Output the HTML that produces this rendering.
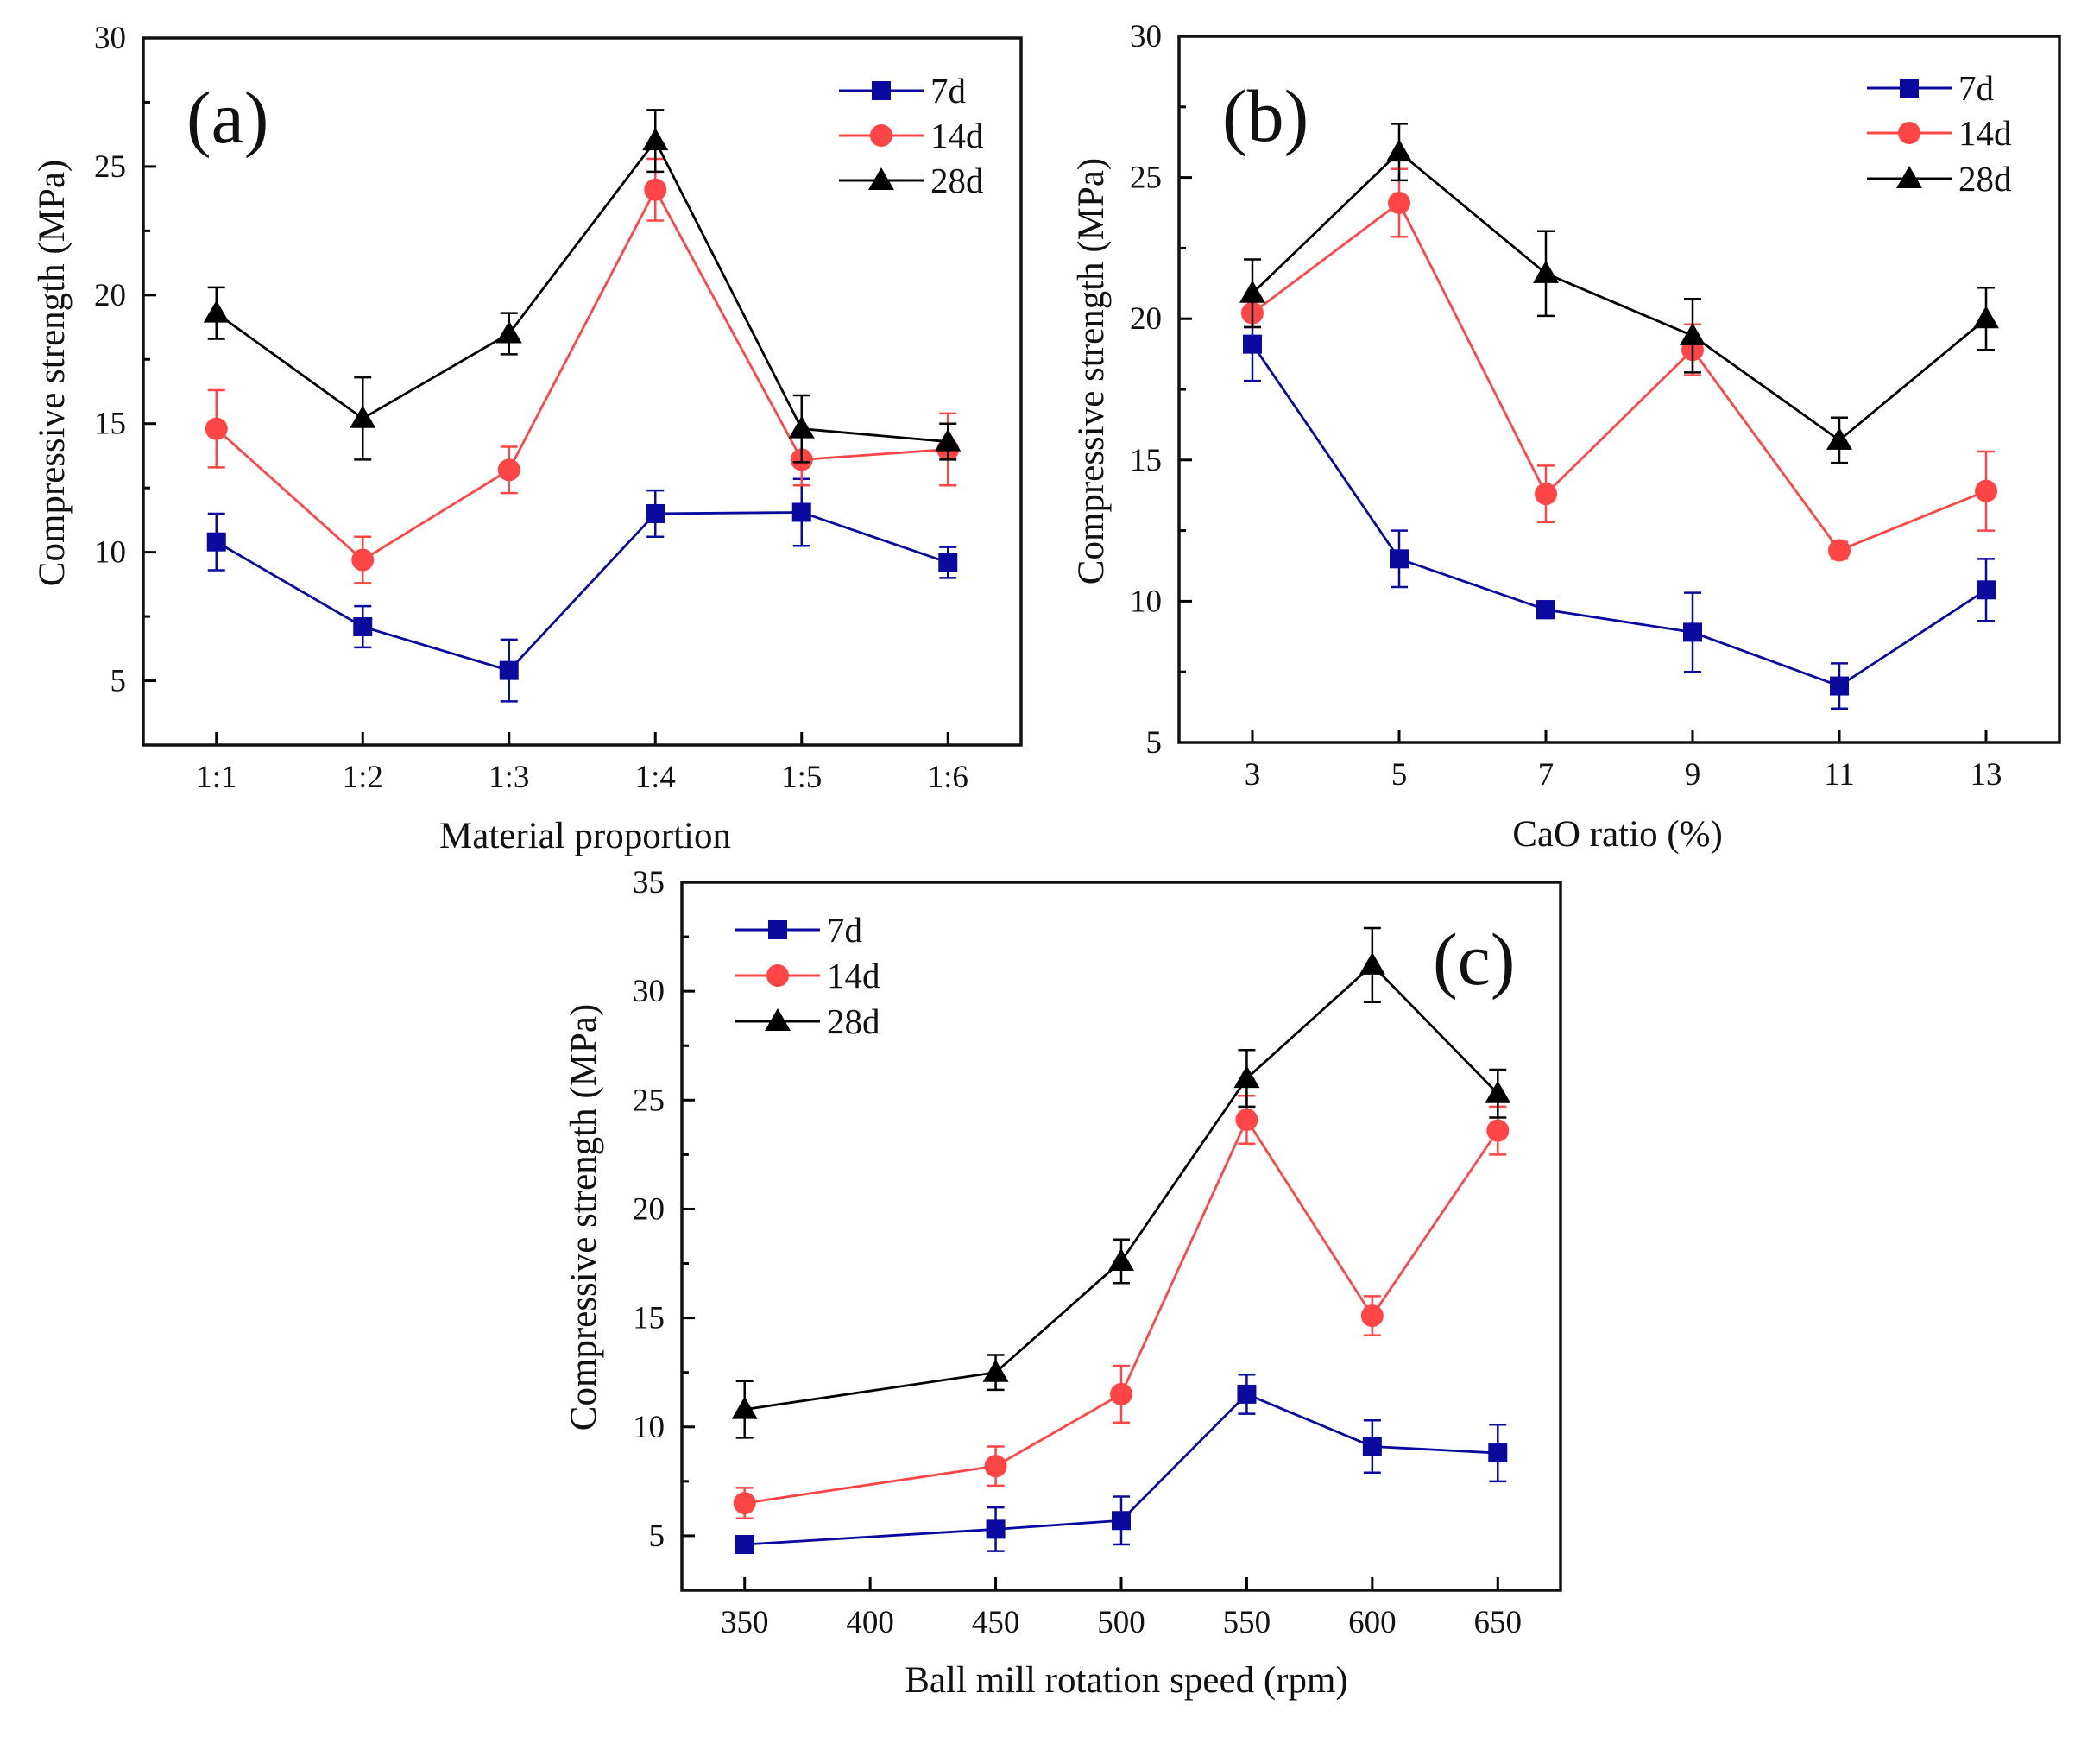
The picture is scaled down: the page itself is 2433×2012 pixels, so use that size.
<!DOCTYPE html>
<html><head><meta charset="utf-8"><style>
html,body{margin:0;padding:0;background:#fff;}
svg{display:block;font-family:"Liberation Serif",serif;}
</style></head><body>
<svg id="fig" width="2433" height="2012" viewBox="0 0 2433 2012" xmlns="http://www.w3.org/2000/svg"></svg>
<script>
// Panel (a)
const catsA = ["1:1","1:2","1:3","1:4","1:5","1:6"];
const a7 = [10.4,7.1,5.4,11.5,11.55,9.6];
const a7e = [1.1,0.8,1.2,0.9,1.3,0.6];
const a14 = [14.8,9.7,13.2,24.1,13.6,14.0];
const a14e = [1.5,0.9,0.9,1.2,1.0,1.4];
const a28 = [19.3,15.2,18.5,26.0,14.8,14.3];
const a28e = [1.0,1.6,0.8,1.2,1.3,0.7];
const yTicksA = [5,10,15,20,25,30];
// Panel (b)
const xB = [3,5,7,9,11,13];
const b7 = [19.1,11.5,9.7,8.9,7.0,10.4];
const b7e = [1.3,1.0,0.3,1.4,0.8,1.1];
const b14 = [20.2,24.1,13.8,18.9,11.8,13.9];
const b14e = [0.5,1.2,1.0,0.9,0.3,1.4];
const b28 = [20.9,25.9,21.6,19.4,15.7,20.0];
const b28e = [1.2,1.0,1.5,1.3,0.8,1.1];
const yTicksB = [5,10,15,20,25,30];
const xTicksB = [3,5,7,9,11,13];
// Panel (c)
const xC = [350,450,500,550,600,650];
const c7 = [4.6,5.3,5.7,11.5,9.1,8.8];
const c7e = [0.3,1.0,1.1,0.9,1.2,1.3];
const c14 = [6.5,8.2,11.5,24.1,15.1,23.6];
const c14e = [0.7,0.9,1.3,1.1,0.9,1.1];
const c28 = [10.8,12.5,17.6,26.0,31.2,25.3];
const c28e = [1.3,0.8,1.0,1.3,1.7,1.1];
const yTicksC = [5,10,15,20,25,30,35];
const xTicksC = [350,400,450,500,550,600,650];

const NS="http://www.w3.org/2000/svg";
const svg=document.getElementById('fig');
const BLUE="#0a0a9e", RED="#ff4545", BLACK="#000";
function mk(tag,attrs,parent){const e=document.createElementNS(NS,tag);for(const k in attrs)e.setAttribute(k,attrs[k]);(parent||svg).appendChild(e);return e;}

function marker(g,type,x,y,color){
  let m;
  if(type==='sq'){m=mk('rect',{x:x-11,y:y-11,width:22,height:22,fill:color},g);}
  else if(type==='ci'){m=mk('circle',{cx:x,cy:y,r:13,fill:color},g);}
  else {m=mk('polygon',{points:`${x},${y-15} ${x+15},${y+11} ${x-15},${y+11}`,fill:color},g);}
  return m;
}

function panel(p){
  const g=mk('g',{});
  
  
  const sx=v=>p.L+(v-p.xmin)/(p.xmax-p.xmin)*(p.R-p.L);
  const sy=v=>p.B-(v-p.ymin)/(p.ymax-p.ymin)*(p.B-p.T);
  const yt=p.yticks;
  for(let i=0;i<yt.length;i++){
    const y=sy(yt[i]);
    const t=mk('line',{x1:p.L,y1:y,x2:p.L+15,y2:y,stroke:'#000','stroke-width':3},g);
    
    
    const lb=mk('text',{x:p.L-20,y:y+12,'text-anchor':'end','font-size':37,fill:'#111'},g);
    lb.textContent=yt[i];
    
    
    const mid=yt[i]-(yt[1]-yt[0])/2;
    if(mid>p.ymin){
      const ym=sy(mid);
      const mt=mk('line',{x1:p.L,y1:ym,x2:p.L+8,y2:ym,stroke:'#000','stroke-width':3},g);
      
      
    }
  }
  for(let i=0;i<p.xticks.length;i++){
    const x=sx(p.xticks[i]);
    const t=mk('line',{x1:x,y1:p.B,x2:x,y2:p.B-15,stroke:'#000','stroke-width':3},g);
    
    
    const lb=mk('text',{x:x,y:p.B+49,'text-anchor':'middle','font-size':37,fill:'#111'},g);
    lb.textContent=p.xlabels[i];
    
    
  }
  const series=[[p.s7,p.s7e,BLUE,'sq','series-7d'],[p.s14,p.s14e,RED,'ci','series-14d'],[p.s28,p.s28e,BLACK,'tr','series-28d']];
  for(const [vals,errs,col,type,nm] of series){
    const sg=mk('g',{},g);
    
    
    const pts=vals.map((v,i)=>`${sx(p.xs[i])},${sy(v)}`).join(' ');
    const pl=mk('polyline',{points:pts,fill:'none',stroke:col,'stroke-width':2.8},sg);
    
    
    vals.forEach((v,i)=>{
      const x=sx(p.xs[i]),y1=sy(v+errs[i]),y2=sy(v-errs[i]);
      const eb=mk('path',{d:`M${x},${y1}V${y2}M${x-10},${y1}H${x+10}M${x-10},${y2}H${x+10}`,stroke:col,'stroke-width':2.5,fill:'none'},sg);
      
      
      const m=marker(sg,type,x,sy(v),col);
      
      
    });
  }
  const fr=mk('rect',{x:p.L,y:p.T,width:p.R-p.L,height:p.B-p.T,fill:'none',stroke:'#111','stroke-width':3.5},g);
  
  
  const lg=mk('g',{},g);
  
  
  const names=['7d','14d','28d'],cols=[BLUE,RED,BLACK],types=['sq','ci','tr'];
  for(let i=0;i<3;i++){
    const y=p.legY[i];
    const e=mk('g',{},lg);
    
    
    mk('line',{x1:p.legX,y1:y,x2:p.legX+98,y2:y,stroke:cols[i],'stroke-width':3},e);
    marker(e,types[i],p.legX+49,y,cols[i]);
    const t=mk('text',{x:p.legX+106,y:y+14,'font-size':41,fill:'#111'},e);
    t.textContent=names[i];
  }
  const pl=mk('text',{x:p.lx,y:p.ly,'font-size':86,fill:'#111'},g);
  pl.textContent=p.letter;
  
  
  const xt=mk('text',{x:p.xtx,y:p.xty,'text-anchor':'middle','font-size':43,fill:'#111'},g);
  xt.textContent=p.xtitle;
  
  
  const yT=mk('text',{x:0,y:0,'text-anchor':'middle','font-size':43,fill:'#111',transform:`translate(${p.ytx},${p.yty}) rotate(-90)`},g);
  yT.textContent='Compressive strength (MPa)';
  
  
}

panel({name:'panel-a',L:166,R:1183,T:44,B:863,xmin:-0.5,xmax:5.5,ymin:2.5,ymax:30,
  xs:[0,1,2,3,4,5],xticks:[0,1,2,3,4,5],xlabels:catsA,yticks:yTicksA,
  s7:a7,s7e:a7e,s14:a14,s14e:a14e,s28:a28,s28e:a28e,
  legX:972,legY:[105,157,209],lx:216,ly:165,letter:'(a)',
  xtx:678,xty:982,xtitle:'Material proportion',ytx:74,yty:432});
panel({name:'panel-b',L:1366,R:2386,T:42,B:860,xmin:2,xmax:14,ymin:5,ymax:30,
  xs:xB,xticks:xTicksB,xlabels:xTicksB,yticks:yTicksB,
  s7:b7,s7e:b7e,s14:b14,s14e:b14e,s28:b28,s28e:b28e,
  legY:[102,154,207],legX:2163,lx:1416,ly:163,letter:'(b)',
  xtx:1874,xty:980,xtitle:'CaO ratio (%)',ytx:1278,yty:430});
panel({name:'panel-c',L:790,R:1808,T:1022,B:1842,xmin:325,xmax:675,ymin:2.5,ymax:35,
  xs:xC,xticks:xTicksC,xlabels:xTicksC,yticks:yTicksC,
  s7:c7,s7e:c7e,s14:c14,s14e:c14e,s28:c28,s28e:c28e,
  legY:[1077,1130,1183],legX:852,lx:1660,ly:1140,letter:'(c)',
  xtx:1305,xty:1960,xtitle:'Ball mill rotation speed (rpm)',ytx:690,yty:1410});
</script>
</body></html>
